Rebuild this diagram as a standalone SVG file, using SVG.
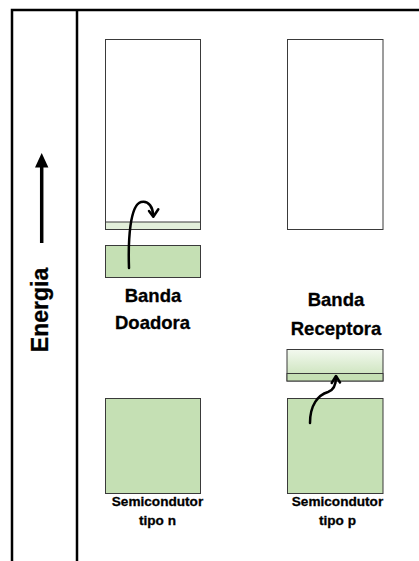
<svg xmlns="http://www.w3.org/2000/svg" width="419" height="561" viewBox="0 0 419 561">
<style>
.frame{stroke:#000;stroke-width:2.5;fill:none}
.box{stroke:#3a3a3a;stroke-width:1;}
.lbl{font-family:"Liberation Sans",Arial,sans-serif;font-weight:bold;fill:#000;stroke:#000;stroke-width:0.3;text-anchor:middle}
.big{font-size:18.5px}
.small{font-size:13.6px}
.arr{fill:none;stroke:#000;stroke-width:2.5;stroke-linecap:round;stroke-linejoin:round}
</style>
<defs>
<linearGradient id="g1" x1="0" y1="0" x2="0" y2="1">
<stop offset="0" stop-color="#f3f9ef"/>
<stop offset="1" stop-color="#c5e0b4"/>
</linearGradient>
</defs>
<rect width="419" height="561" fill="#fff"/>
<g id="frame">
<path class="frame" d="M12,561 V10 H419"/>
<path class="frame" d="M77,10 V561"/>
</g>
<g id="energia">
<path d="M41.7,243 V165" stroke="#000" stroke-width="3.5"/>
<polygon points="41.7,153 35,167.5 48.4,167.5" fill="#000"/>
<text class="lbl" font-size="23" transform="translate(48,310) rotate(-90)">Energia</text>
</g>
<g id="n-conducao">
<rect class="box" x="105.5" y="39.5" width="95" height="190" fill="#fff"/>
<rect class="box" x="105.5" y="222" width="95" height="7.5" fill="#e2efda"/>
</g>
<g id="n-doadora">
<rect class="box" x="105.5" y="245.5" width="95" height="32" fill="#c5e0b4"/>
<text class="lbl big" x="153" y="302">Banda</text>
<text class="lbl big" x="152.5" y="329">Doadora</text>
</g>
<g id="n-valencia">
<rect class="box" x="105.5" y="398.5" width="95" height="95" fill="#c5e0b4"/>
<text class="lbl small" x="157.5" y="506">Semicondutor</text>
<text class="lbl small" x="157.5" y="525">tipo n</text>
</g>
<g id="p-conducao">
<rect class="box" x="287.5" y="39.5" width="95.5" height="190" fill="#fff"/>
</g>
<g id="p-receptora">
<text class="lbl big" x="336" y="306">Banda</text>
<text class="lbl big" x="336" y="335">Receptora</text>
<rect class="box" x="287" y="349.5" width="96" height="31.5" fill="url(#g1)"/>
<rect class="box" x="287" y="373.5" width="96" height="7.5" fill="#c5e0b4"/>
</g>
<g id="p-valencia">
<rect class="box" x="287.5" y="398.5" width="95.5" height="95" fill="#c5e0b4"/>
<text class="lbl small" x="337.5" y="506">Semicondutor</text>
<text class="lbl small" x="337.5" y="525">tipo p</text>
</g>
<g id="connectors">
<path class="arr" d="M129,268 C128,240 130,205 141,202 C149,200 153,208 153,215"/>
<polyline class="arr" points="149,211 153.3,216.7 158.3,209.3"/>
<path class="arr" d="M310,423 C310,405 318,395 328,392 C334,390 336,385 336,377"/>
<polyline class="arr" points="331.7,383 336,376 340,382.5"/>
</g>
</svg>
